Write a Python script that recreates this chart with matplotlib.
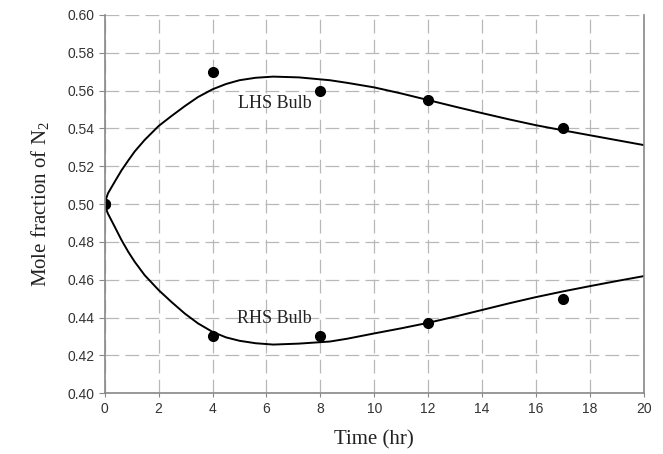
import matplotlib.pyplot as plt

plt.rcParams['mathtext.fontset'] = 'custom'
plt.rcParams['mathtext.rm'] = 'Liberation Serif'
plt.rcParams['mathtext.it'] = 'Liberation Serif:italic'

# measured points
t_obs = [0, 4, 8, 12, 17]
lhs_obs = [0.500, 0.570, 0.560, 0.555, 0.540]
rhs_obs = [0.500, 0.430, 0.430, 0.437, 0.450]

# model curves
t_fit = [0, 0.05, 0.12, 0.37, 0.62, 0.87, 1.11, 1.48, 2.0, 2.47, 2.97, 3.46, 4.0, 4.5, 5.0, 5.6,
         6.25, 7.2, 8.35, 9.0, 10.0, 11.0, 12.0, 13.0, 14.0, 15.0, 16.0, 17.0, 18.0, 19.0, 20.0]
lhs_fit = [0.500, 0.5028, 0.5057, 0.5118, 0.5178, 0.5230, 0.5278, 0.5339, 0.5413, 0.5465, 0.5518,
           0.5566, 0.5607, 0.5635, 0.5655, 0.5668, 0.5674, 0.5670, 0.5655, 0.5641, 0.5617, 0.5585,
           0.5550, 0.5515, 0.5481, 0.5448, 0.5417, 0.5390, 0.5364, 0.5338, 0.5312]
rhs_fit = [0.500, 0.4974, 0.4949, 0.4880, 0.4810, 0.4748, 0.4695, 0.4624, 0.4545, 0.4483, 0.4421,
           0.4369, 0.4324, 0.4295, 0.4277, 0.4264, 0.4257, 0.4262, 0.4273, 0.4288, 0.4316, 0.4343,
           0.4372, 0.4405, 0.4440, 0.4475, 0.4508, 0.4538, 0.4566, 0.4593, 0.4619]

x_ticks = list(range(0, 21, 2))
y_ticks = [0.40, 0.42, 0.44, 0.46, 0.48, 0.50, 0.52, 0.54, 0.56, 0.58, 0.60]

fig = plt.figure(figsize=(6.63, 4.54), dpi=100)
ax = fig.add_axes([0.158, 0.134, 0.813, 0.833])

ax.plot(t_fit, lhs_fit, color='black', lw=1.4)
ax.plot(t_fit, rhs_fit, color='black', lw=1.4)
ax.plot(t_obs, lhs_obs, 'o', color='black', ms=7)
ax.plot(t_obs, rhs_obs, 'o', color='black', ms=7)

ax.text(6.3, 0.5534, 'LHS Bulb', family='Liberation Serif', fontsize=13, ha='center', va='center', color='#222222')
ax.text(6.3, 0.4397, 'RHS Bulb', family='Liberation Serif', fontsize=13, ha='center', va='center', color='#222222')

ax.set_xlim(0, 20)
ax.set_ylim(0.40, 0.60)
ax.set_xticks(x_ticks)
ax.set_yticks(y_ticks)
ax.set_yticklabels([f'{v:.2f}' for v in y_ticks])
for lab in ax.get_xticklabels() + ax.get_yticklabels():
    lab.set_family('Liberation Sans')
    lab.set_fontsize(10)
    lab.set_color('#333333')

ax.grid(True, color='#b8b8b8', lw=0.9, linestyle=(0, (11, 5)))
ax.set_axisbelow(True)
ax.tick_params(axis='y', direction='out', length=4, color='#888888')
ax.tick_params(axis='x', direction='out', length=3, color='#888888')
for side in ['left', 'bottom', 'right']:
    ax.spines[side].set_color('#888888')
    ax.spines[side].set_linewidth(1.2)
ax.spines['top'].set_visible(False)

ax.set_xlabel('Time (hr)', family='Liberation Serif', fontsize=15, color='#222222', labelpad=10)
ax.set_ylabel('Mole fraction of N$_2$', family='Liberation Serif', fontsize=15, color='#222222', labelpad=12)

fig.savefig('out.png', dpi=100, facecolor='white')
